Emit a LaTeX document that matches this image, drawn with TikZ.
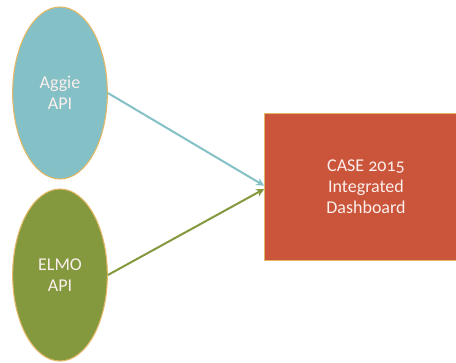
\documentclass[tikz,border=0pt]{standalone}
\usepackage{fontspec}
\setmainfont{Carlito}[Numbers=OldStyle]
\usepackage{xcolor}
\usetikzlibrary{calc, positioning}
\usetikzlibrary{arrows.meta}
\usetikzlibrary{shapes.geometric}

\definecolor{aggieblue}{HTML}{84C1C6}
\definecolor{elmogreen}{HTML}{84993E}
\definecolor{caseorange}{HTML}{CB553A}
\definecolor{rimgold}{HTML}{E2B867}
\definecolor{textwhite}{HTML}{FBEFEC}

\tikzset{
  apinode/.style={ellipse, draw=rimgold, line width=0.8pt,
    minimum width=71pt, minimum height=129pt, inner sep=0pt,
    text=textwhite, align=center, font=\fontsize{13.5}{15.75}\selectfont},
  dashnode/.style={rectangle, draw=rimgold, line width=0.8pt, fill=caseorange,
    minimum width=152pt, minimum height=110pt, inner sep=0pt,
    text=textwhite, align=center, font=\fontsize{13.5}{15.75}\selectfont},
  feed/.style={line width=1.5pt, -{Stealth[length=6pt,width=6pt]}}
}

\begin{document}
\begin{tikzpicture}[x=0.75pt,y=-0.75pt]
\useasboundingbox (0,0) rectangle (456,362);

\node[apinode,fill=aggieblue] (aggie) at (60,93) {Aggie\\API};
\node[apinode,fill=elmogreen] (elmo) at (60,275) {ELMO\\API};
\node[dashnode] (dash) at (366,187) {CASE 2015\\Integrated\\Dashboard};

\draw[feed,aggieblue] (aggie.east) -- ([yshift=1pt]dash.west);
\draw[feed,elmogreen] (elmo.east) -- ([yshift=-1.5pt]dash.west);
\end{tikzpicture}
\end{document}
